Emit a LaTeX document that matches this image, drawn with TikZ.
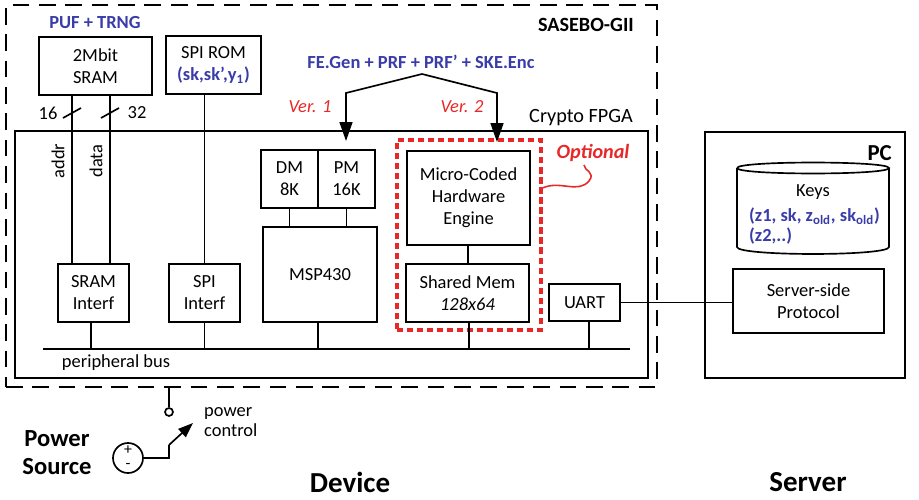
\documentclass[tikz,border=0pt]{standalone}
\usepackage{fontspec}
\setmainfont{Carlito}
\usetikzlibrary{arrows.meta}

\definecolor{keyblue}{RGB}{58,60,168}
\definecolor{optred}{RGB}{232,40,40}

\begin{document}
\begin{tikzpicture}[
  x=0.2mm, y=-0.2mm,
  font=\fontsize{10.5}{12.5}\selectfont,
  box/.style={draw, line width=0.95pt, align=center, inner sep=0pt},
  frame/.style={draw, line width=0.95pt, inner sep=0pt},
  board/.style={draw, line width=1.25pt, dash pattern=on 9.5pt off 5.5pt, inner sep=0pt},
  optbox/.style={draw=optred, line width=1.8pt, dash pattern=on 3.5pt off 2.2pt, inner sep=0pt},
  wire/.style={line width=0.95pt},
  arrow/.style={line width=0.95pt, -{Triangle[length=3.8mm, width=2.6mm]}},
  bluetxt/.style={text=keyblue, font=\fontsize{10.5}{12.5}\selectfont\bfseries},
  redtxt/.style={text=optred, font=\fontsize{10.5}{12.5}\selectfont\itshape},
  big/.style={font=\fontsize{16.5}{18}\selectfont\bfseries}
]
\useasboundingbox (0,0) rectangle (919,500);

% outer frames
\node[board, minimum width=130.2mm, minimum height=76.4mm] (sasebo) at (331.5,196) {};
\node[frame, minimum width=126.6mm, minimum height=49.4mm] (fpga) at (331.5,254.5) {};
\node[frame, minimum width=40mm, minimum height=49.2mm] (pc) at (805,255) {};

\node[anchor=east, font=\fontsize{11.5}{13}\selectfont\bfseries] (sasebolbl) at (640,25) {SASEBO-GII};
\node[anchor=east, font=\fontsize{11.5}{13}\selectfont] (fpgalbl) at (639,118) {Crypto FPGA};
\node[anchor=east, font=\fontsize{13}{15}\selectfont\bfseries] (pclbl) at (898,153) {PC};

% memories on the board
\node[bluetxt] (puflbl) at (95,23) {PUF + TRNG};
\node[box, minimum width=22.6mm, minimum height=11.6mm] (sram) at (95.5,66) {2Mbit\\SRAM};
\node[box, minimum width=19mm, minimum height=11.6mm] (spirom) at (213.5,65)
  {SPI ROM\\{\color{keyblue}\bfseries(sk,sk’,y\textsubscript{1})}};

% inside the FPGA
\node[box, minimum width=14.2mm, minimum height=11.6mm] (sramif) at (93.5,293) {SRAM\\Interf};
\node[box, minimum width=14.2mm, minimum height=11.6mm] (spiif) at (204.5,293) {SPI\\Interf};
\node[box, minimum width=11.4mm, minimum height=11.6mm] (dm) at (289.5,179) {DM\\8K};
\node[box, minimum width=11.4mm, minimum height=11.6mm] (pm) at (346.5,179) {PM\\16K};
\node[box, minimum width=22.8mm, minimum height=19mm] (msp) at (320,274.5) {MSP430};
\node[box, minimum width=24.6mm, minimum height=18.8mm] (engine) at (468.5,198)
  {Micro-Coded\\Hardware\\Engine};
\node[box, minimum width=24.6mm, minimum height=11.6mm] (shmem) at (467.5,293)
  {Shared Mem\\\textit{128x64}};
\node[optbox, minimum width=28.8mm, minimum height=38mm] (opt) at (469,235) {};
\node[box, minimum width=14.2mm, minimum height=7.4mm] (uart) at (584.5,302.5) {UART};

% server side, key database
\draw[wire] (737,168) .. controls (737,160.7) and (889,160.7) .. (889,168)
  .. controls (889,175.3) and (737,175.3) .. (737,168);
\draw[wire] (737,168) -- (737,247) .. controls (737,256.3) and (889,256.3) .. (889,247) -- (889,168);
\node (keyslbl) at (813,192) {Keys};
\node[bluetxt, anchor=west] (keyset1) at (743,216)
  {(z1, sk, z\textsubscript{old}, sk\textsubscript{old})};
\node[bluetxt, anchor=west] (keyset2) at (743,236) {(z2,..)};
\node[box, minimum width=30.2mm, minimum height=12.8mm] (proto) at (808.5,301)
  {Server-side\\Protocol};

% SRAM and SPI buses
\draw[wire] (sram.south -| 72,0) -- (sramif.north -| 72,0);
\draw[wire] (sram.south -| 110,0) -- (sramif.north -| 110,0);
\draw[wire] (63,118) -- (81,108);
\draw[wire] (101,118) -- (119,108);
\node (w16) at (48,113) {16};
\node (w32) at (137,113) {32};
\node[rotate=90] (addrlbl) at (58,161) {addr};
\node[rotate=90] (datalbl) at (96,161) {data};
\draw[wire] (spirom.south -| spiif.north) -- (spiif.north);

% peripheral bus
\coordinate (busL) at (43,349);
\coordinate (busR) at (630,349);
\draw[wire] (busL) -- (busR);
\node (buslbl) at (116,363) {peripheral bus};
\draw[wire] (sramif.south -| 91,0) -- (busL -| 91,0);
\draw[wire] (spiif.south) -- (spiif.south |- busL);
\draw[wire] (msp.south -| 318,0) -- (busL -| 318,0);
\draw[wire] (shmem.south -| 469,0) -- (busL -| 469,0);
\draw[wire] (uart.south -| 589,0) -- (busL -| 589,0);
\draw[wire] (dm.south) -- (dm.south |- msp.north);
\draw[wire] (pm.south) -- (pm.south |- msp.north);
\draw[wire] (engine.south -| 468,0) -- (shmem.north -| 468,0);
\draw[wire] (uart.east) -- (uart.east -| proto.west);

% algorithm mapping
\node[bluetxt] (felbl) at (421,62) {FE.Gen + PRF + PRF’ + SKE.Enc};
\coordinate (fork) at (422,74);
\draw[arrow] (fork) -- (346,93) -- (346,141);
\draw[arrow] (fork) -- (497,93) -- (497,142);
\node[redtxt] (ver1) at (310,107) {Ver. 1};
\node[redtxt] (ver2) at (462,107) {Ver. 2};
\node[text=optred, font=\fontsize{11.5}{13}\selectfont\bfseries\itshape] (optlbl) at (593,153) {Optional};
\draw[optred, line width=0.9pt] (opt.east |- 0,188) .. controls (560,180) and (578,194) .. (589,181)
  .. controls (596,172) and (584,171) .. (584,165);

% power supply
\node[circle, draw, line width=0.95pt, minimum size=1.6mm, inner sep=0pt] (pwrpin) at (169,412) {};
\draw[wire] (sasebo.south -| pwrpin) -- (pwrpin);
\node[circle, draw, line width=0.95pt, minimum size=6mm, inner sep=0pt] (batt) at (128,458) {};
\node[font=\fontsize{9}{10}\selectfont] (plus) at (128,450) {+};
\node[font=\fontsize{9}{10}\selectfont] (minus) at (128,466) {-};
\coordinate (swbase) at (169,445);
\coordinate (swtip) at (193,423);
\draw[wire] (batt.east) -- (batt.east -| swbase) -- (swbase);
\draw[line width=0.95pt, -{Triangle[length=3mm, width=2.2mm]}] (swbase) -- (swtip);
\node[anchor=west, align=left, font=\fontsize{10.5}{11.5}\selectfont] (pwrlbl) at (198,422) {power\\control};
\node[align=center, font=\fontsize{14}{16}\selectfont\bfseries] (srclbl) at (57,453) {Power\\Source};

\node[big] (devlbl) at (350,482) {Device};
\node[big] (srvlbl) at (808,482) {Server};

\end{tikzpicture}
\end{document}
